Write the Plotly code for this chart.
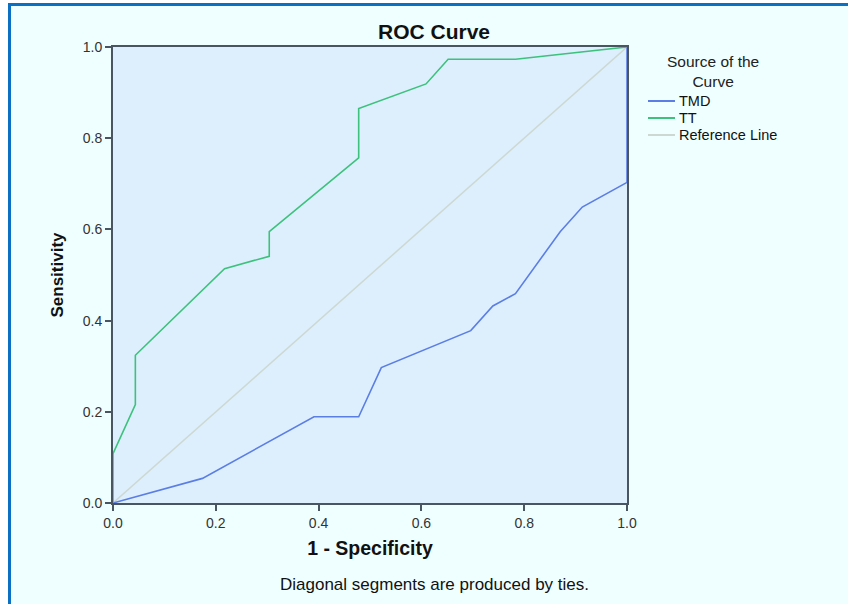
import plotly.graph_objects as go

# TT curve (1 - specificity, sensitivity)
tt_fpr = [0.0, 0.0, 0.0435, 0.0435, 0.217, 0.304, 0.304, 0.478, 0.478, 0.609, 0.652, 0.783, 1.0]
tt_tpr = [0.0, 0.108, 0.216, 0.324, 0.514, 0.541, 0.595, 0.757, 0.865, 0.919, 0.973, 0.973, 1.0]

# TMD curve
tmd_fpr = [0.0, 0.174, 0.391, 0.478, 0.522, 0.696, 0.739, 0.783, 0.870, 0.913, 1.0, 1.0]
tmd_tpr = [0.0, 0.054, 0.189, 0.189, 0.297, 0.378, 0.432, 0.459, 0.595, 0.649, 0.703, 1.0]

# Reference (diagonal) line
ref_x = [0.0, 1.0]
ref_y = [0.0, 1.0]

series_names = ["TMD", "TT", "Reference Line"]
series_colors = ["#5B7EE5", "#3CC27C", "#CDD8D2"]

tick_vals = [0.0, 0.2, 0.4, 0.6, 0.8, 1.0]
tick_text = ["0.0", "0.2", "0.4", "0.6", "0.8", "1.0"]

FONT = "Liberation Sans, Arial, sans-serif"

W, H = 848, 604
L, R, T, B = 113, 221, 47, 101
PW, PH = W - L - R, H - T - B


def px(x):
    return (x - L) / PW


def py(y):
    return (H - B - y) / PH


fig = go.Figure()
fig.add_trace(go.Scatter(x=ref_x, y=ref_y, mode="lines", name=series_names[2],
                         line=dict(color=series_colors[2], width=1.5)))
fig.add_trace(go.Scatter(x=tmd_fpr, y=tmd_tpr, mode="lines", name=series_names[0],
                         line=dict(color=series_colors[0], width=1.6)))
fig.add_trace(go.Scatter(x=tt_fpr, y=tt_tpr, mode="lines", name=series_names[1],
                         line=dict(color=series_colors[1], width=1.6)))

axis_common = dict(
    range=[0, 1], showgrid=False, zeroline=False,
    showline=True, linecolor="#4A5562", linewidth=2, mirror=True,
    ticks="outside", ticklen=6, tickwidth=2, tickcolor="#4A5562",
    tickvals=tick_vals, ticktext=tick_text,
    tickfont=dict(family=FONT, size=14, color="#333333"),
    fixedrange=True,
)

fig.update_layout(
    width=W, height=H,
    margin=dict(l=L, r=R, t=T, b=B),
    paper_bgcolor="#EFFFFF", plot_bgcolor="#DDEFFD",
    font=dict(family=FONT, color="#111111"),
    xaxis=dict(axis_common, title=dict(text="<b>1 - Specificity</b>",
               font=dict(family=FONT, size=19.5, color="#111111"), standoff=12)),
    yaxis=dict(axis_common, title=dict(text="<b>Sensitivity</b>",
               font=dict(family=FONT, size=17, color="#111111"), standoff=15)),
    showlegend=False,
    title=dict(text="<b>ROC Curve</b>", x=434 / W, xanchor="center",
               y=1 - 32 / H, yanchor="middle",
               font=dict(family=FONT, size=21, color="#111111")),
)

annotations = [
    dict(text="Source of the<br>Curve", x=px(713), y=py(71), xref="paper", yref="paper",
         showarrow=False, xanchor="center", yanchor="middle", align="center",
         font=dict(family=FONT, size=15.5, color="#222222")),
    dict(text="Diagonal segments are produced by ties.", x=px(434), y=py(584),
         xref="paper", yref="paper", showarrow=False, xanchor="center", yanchor="middle",
         font=dict(family=FONT, size=17, color="#111111")),
]

shapes = []
# manual legend entries
for i, (name, col) in enumerate(zip(series_names, series_colors)):
    yy = py(101 + 17 * i)
    shapes.append(dict(type="line", xref="paper", yref="paper", x0=px(648), x1=px(675),
                       y0=yy, y1=yy, line=dict(color=col, width=2)))
    annotations.append(dict(text=name, x=px(677), y=yy, xref="paper", yref="paper",
                            showarrow=False, xanchor="left", yanchor="middle",
                            font=dict(family=FONT, size=14.5, color="#111111")))

# white page margin strips and outer blue frame (left and top edges)
shapes.append(dict(type="rect", xref="paper", yref="paper", x0=px(0), x1=px(8), y0=py(H), y1=py(0),
                   fillcolor="white", line=dict(width=0), layer="below"))
shapes.append(dict(type="rect", xref="paper", yref="paper", x0=px(0), x1=px(W), y0=py(3), y1=py(0),
                   fillcolor="white", line=dict(width=0), layer="below"))
shapes.append(dict(type="line", xref="paper", yref="paper", x0=px(9.5), x1=px(9.5), y0=py(H), y1=py(3),
                   line=dict(color="#0B6FC4", width=3)))
shapes.append(dict(type="line", xref="paper", yref="paper", x0=px(8), x1=px(W), y0=py(4.5), y1=py(4.5),
                   line=dict(color="#0B6FC4", width=3)))

fig.update_layout(annotations=annotations, shapes=shapes)

fig.write_html("out.html", config={"displayModeBar": False},
               post_script="document.body.style.margin='0';")
